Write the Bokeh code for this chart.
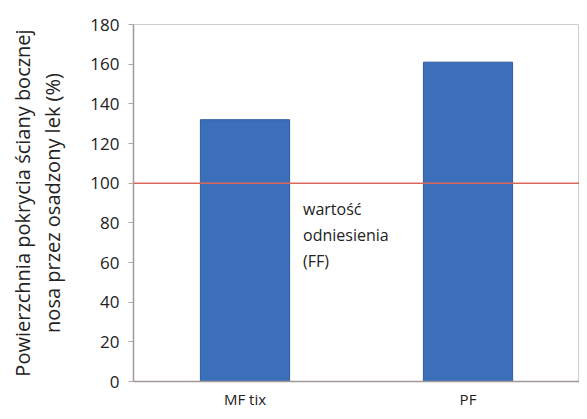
from bokeh.plotting import figure
from bokeh.models import Span, FixedTicker
from bokeh.core.properties import value
from bokeh.embed import file_html
from bokeh.resources import INLINE

categories = ["MF tix", "PF"]
values = [132, 161]
reference_value = 100
reference_label = "wartość\nodniesienia\n(FF)"
y_ticks = [0, 20, 40, 60, 80, 100, 120, 140, 160, 180]
y_label = "Powierzchnia pokrycia ściany bocznej\nnosa przez osadzony lek (%)"

FONT = "Open Sans"

p = figure(x_range=categories, y_range=(0, 180), width=579, height=411,
           output_backend="svg", toolbar_location=None,
           min_border_left=133, min_border_right=0, min_border_top=24, min_border_bottom=21)
p.xgrid.visible = False
p.ygrid.visible = False
p.outline_line_color = "#d0cccc"
p.background_fill_color = "white"
p.border_fill_color = "white"

p.vbar(x=categories, top=values, width=0.4, fill_color="#3b6fba", line_color="#2f5d9e", line_width=1)

span = Span(location=reference_value, dimension="width", line_color="#d9675c", line_width=1.5)
p.add_layout(span)

p.text(x=[categories[0]], y=[reference_value], text=[reference_label],
       x_offset=58, y_offset=15, text_font=value(FONT), text_font_size="16px",
       text_color="#222222", text_baseline="top", text_align="left", text_line_height=1.17)

p.yaxis.ticker = FixedTicker(ticks=y_ticks)
p.yaxis.axis_label = y_label
p.yaxis.axis_label_text_font = FONT
p.yaxis.axis_label_text_font_size = "20px"
p.yaxis.axis_label_text_font_style = "normal"
p.yaxis.axis_label_text_color = "#222222"
p.yaxis.axis_label_text_line_height = 1.12
p.yaxis.axis_label_standoff = 21
p.yaxis.major_label_text_font = FONT
p.yaxis.major_label_text_font_size = "17px"
p.yaxis.major_label_text_color = "#222222"
p.yaxis.major_label_standoff = 9
p.yaxis.minor_tick_line_color = None
p.yaxis.major_tick_in = 0
p.yaxis.major_tick_out = 5
p.yaxis.major_tick_line_color = "#b0a8a8"
p.yaxis.axis_line_color = "#a09898"
p.yaxis.axis_line_width = 1.5

p.xaxis.major_label_text_font = FONT
p.xaxis.major_label_text_font_size = "15px"
p.xaxis.major_label_text_color = "#222222"
p.xaxis.major_tick_line_color = None
p.xaxis.axis_line_color = "#a09898"
p.xaxis.axis_line_width = 1.5
p.xaxis.major_label_standoff = 1

open("out.html", "w").write(file_html(p, INLINE))
